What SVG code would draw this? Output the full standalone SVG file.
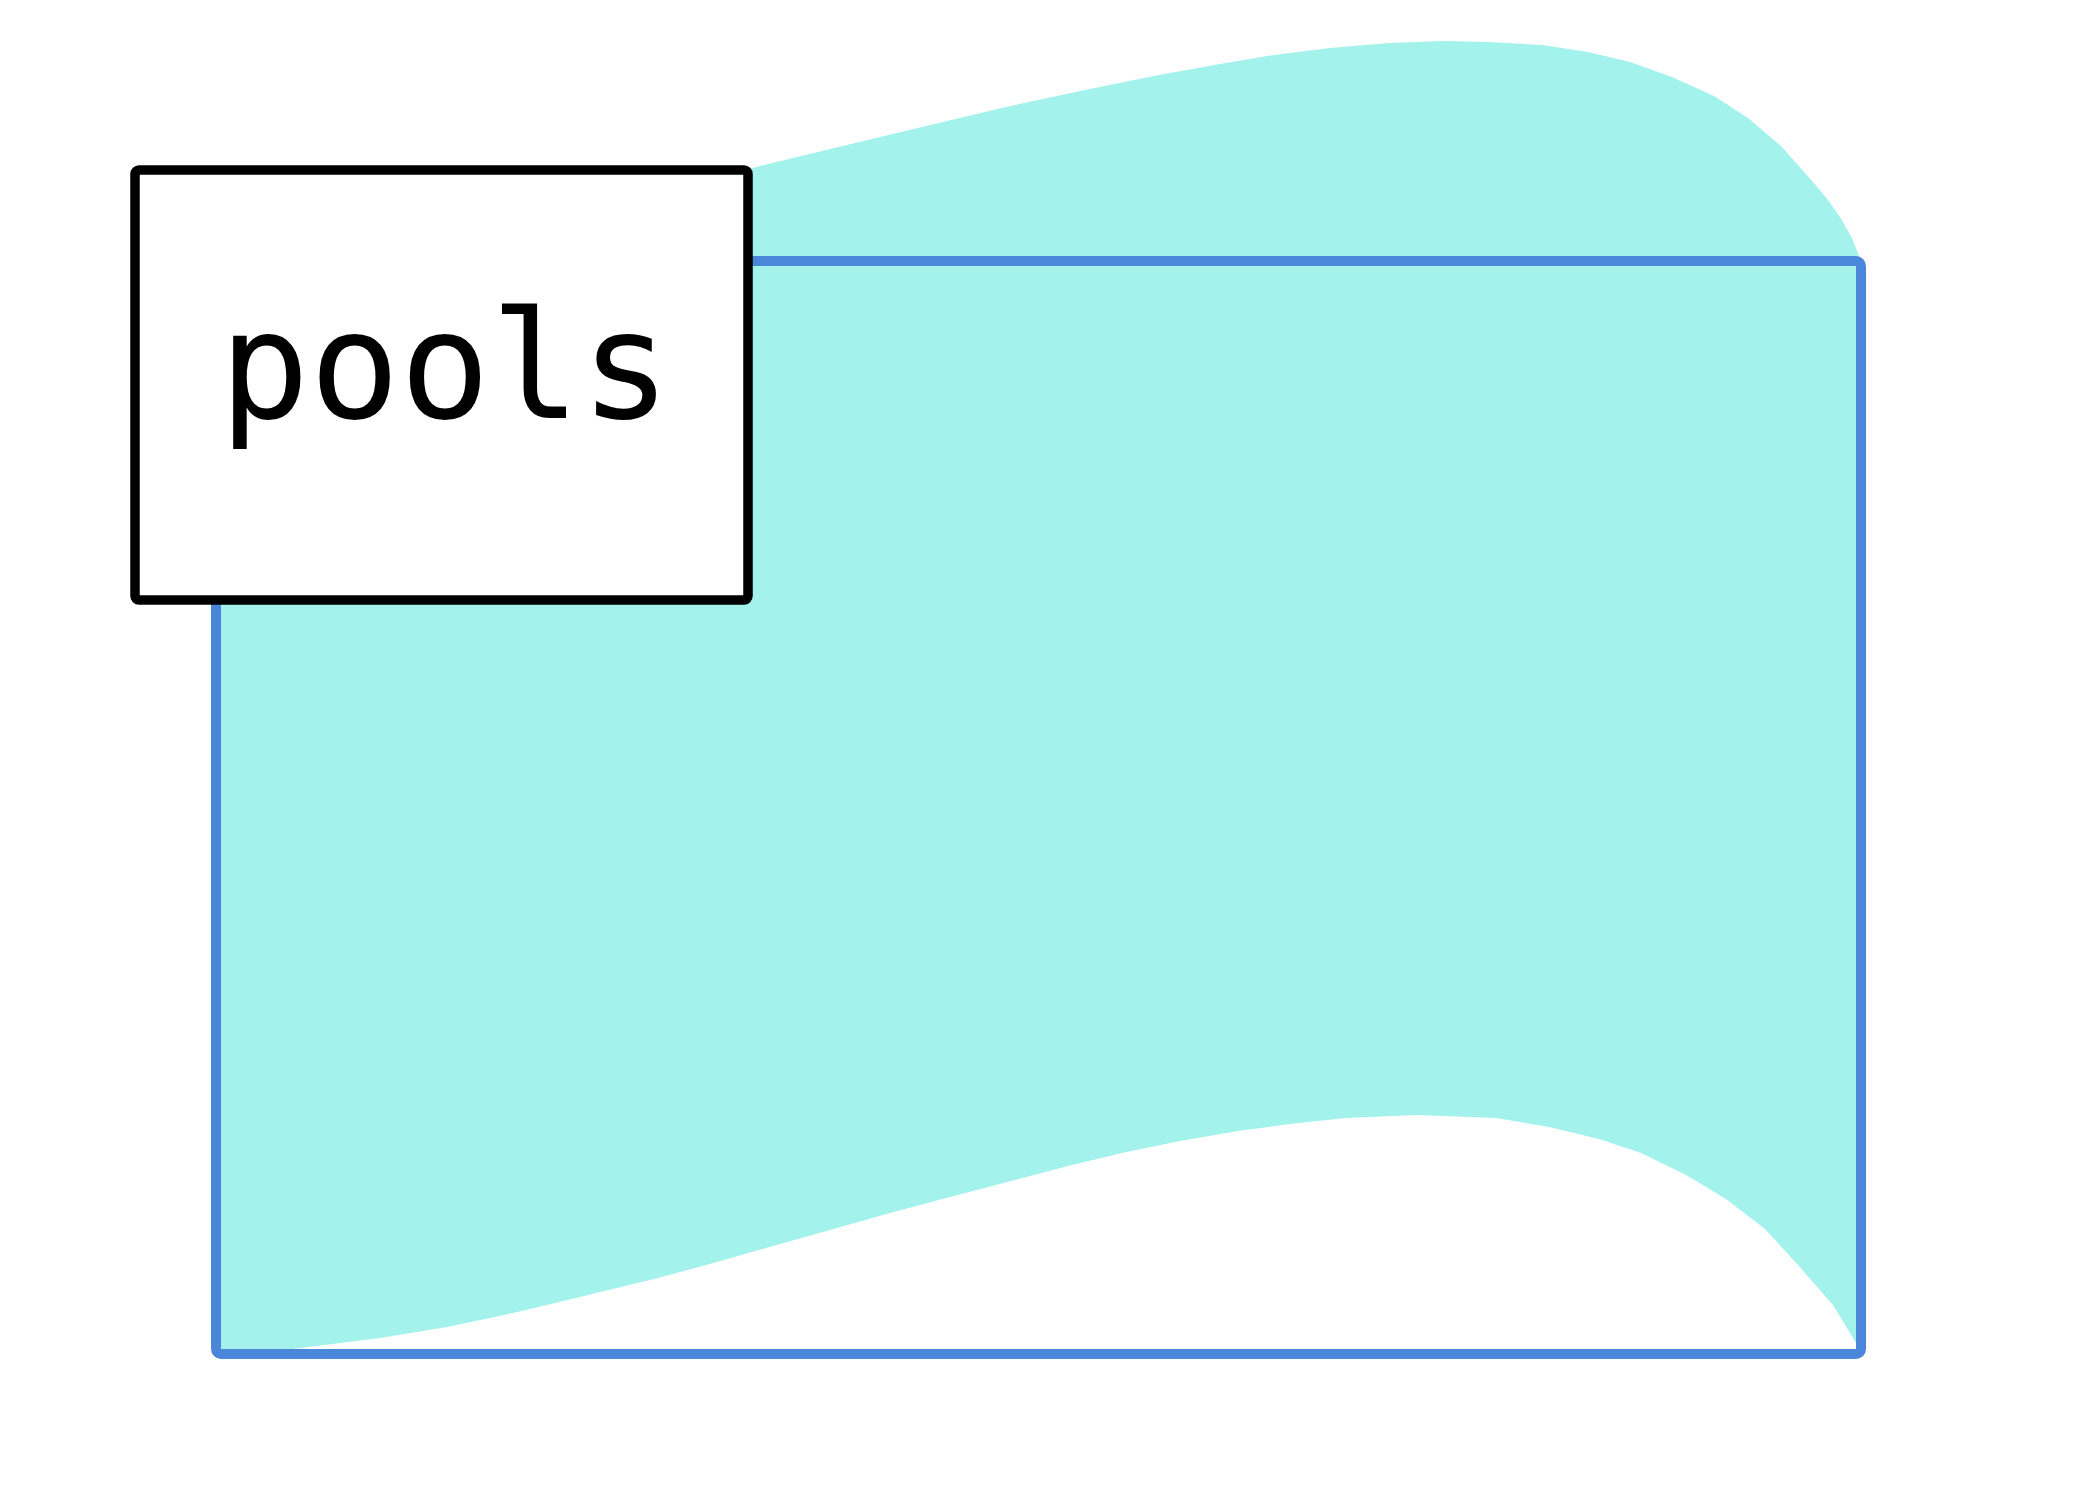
<svg xmlns="http://www.w3.org/2000/svg" width="2100" height="1500" viewBox="0 0 2100 1500">
<style>
.flow{fill:#a3f2ec;stroke:none}
.pool{fill:none;stroke:#4a86da;stroke-width:10}
.box{fill:#ffffff;stroke:#000000;stroke-width:9.5}
.lbl{font-family:"DejaVu Sans Mono","Liberation Mono",monospace;font-size:150px;fill:#000000;text-anchor:middle}
</style>
<rect width="2100" height="1500" fill="#ffffff"/>
<g id="connectors">
<path class="flow" d="M216,261 L293,257 L380,249 L447,239 L513,226 L580,210 L654,191 L752,168 L880,137 L1006,107 L1085,90 L1159,75 L1220,64 L1274,55 L1330,48 L1389,43 L1442,41 L1488,42 L1542,45 L1588,52 L1630,62 L1672,77 L1714,96 L1748,118 L1781,146 L1813,182 L1828,200 L1840,217 L1852,238 L1861,261 L1861,1350 L1856,1343 L1833,1305 L1798,1265 L1765,1229 L1726,1199 L1686,1175 L1641,1153 L1599,1139 L1549,1127 L1496,1118 L1417,1115 L1346,1118 L1290,1124 L1238,1131 L1180,1141 L1122,1153 L1068,1166 L1015,1180 L950,1197 L890,1213 L830,1230 L766,1248 L710,1264 L654,1279 L600,1292 L580,1297 L513,1313 L447,1327 L380,1338 L293,1349 L216,1354 Z"/>
</g>
<g id="node-pool-area">
<rect class="pool" x="216" y="261" width="1645" height="1093" rx="5"/>
</g>
<g id="node-pools">
<rect class="box" x="135" y="170" width="613" height="430" rx="4"/>
<text class="lbl" x="445" y="418">pools</text>
</g>
</svg>
